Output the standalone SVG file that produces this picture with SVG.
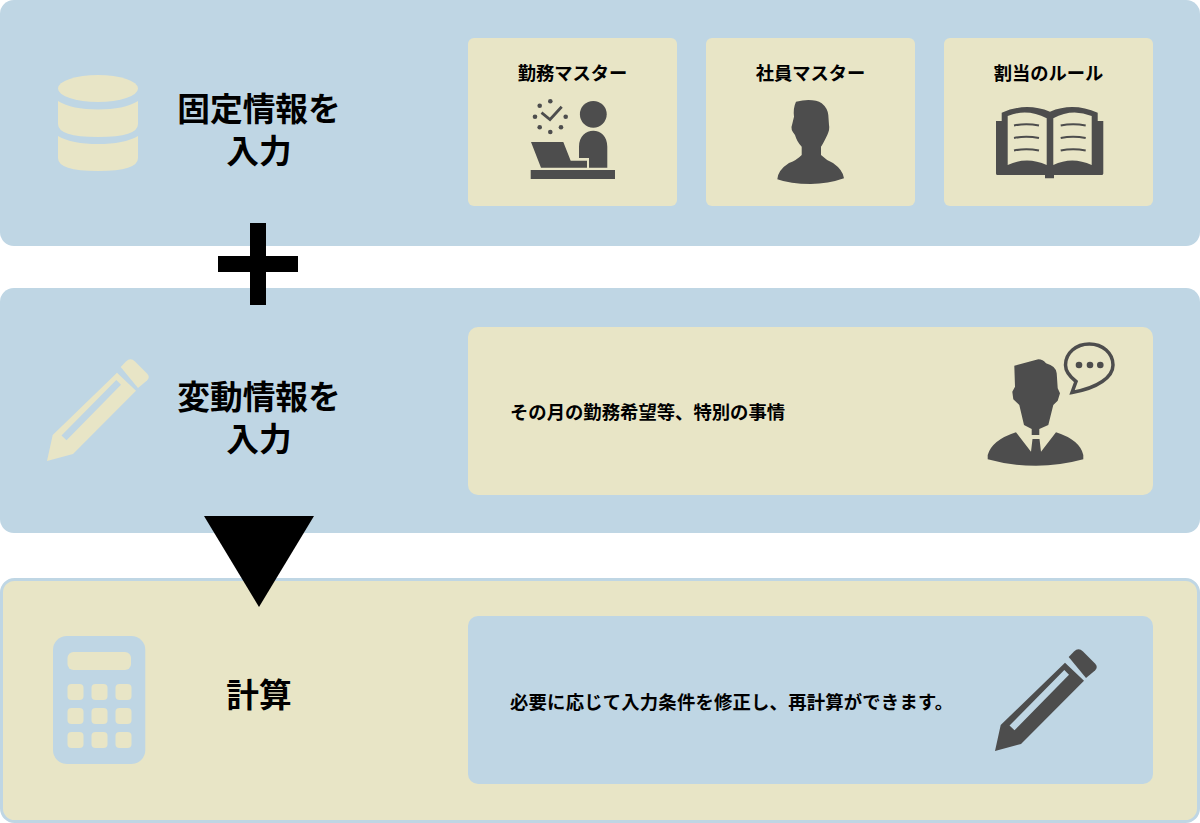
<svg xmlns="http://www.w3.org/2000/svg" width="1200" height="823" viewBox="0 0 1200 823">
<style>
text{font-family:"Noto Sans CJK JP","Noto Sans",sans-serif;font-weight:700;fill:#000}
.t{font-size:32.700px;text-anchor:middle}
.l{font-size:18.300px;text-anchor:middle}
.d{font-size:18.350px}
.b{fill:#bfd6e4}
.y{fill:#e8e5c6}
.k{fill:#4d4d4d}
</style>
<defs>
<g id="pencil">
<path d="M52.7 435L117 372.7L136 390.7L73 454L47 461Z M61.500 435.500L66.500 440.300L121 384.800L116.300 380Z" fill-rule="evenodd"/>
<path d="M120.700 367L126 361.500Q130.500 357 135 361.500L147 373.500Q150.500 377 147 380.500L138 388Z"/>
</g>
</defs>
<rect id="panel-fixed" class="b" x="0" y="0" width="1200" height="246" rx="14"/>
<rect id="panel-variable" class="b" x="0" y="288" width="1200" height="245" rx="14"/>
<rect id="panel-calc" class="y" x="1.500" y="579.500" width="1197" height="242" rx="13" stroke="#bfd6e4" stroke-width="3"/>

<g id="fixed-input">
<g class="y">
<ellipse cx="98" cy="88.500" rx="40" ry="13.500"/>
<path d="M58 101Q72 109.500 98 109.500T138 101V124Q138 137 98 137T58 124Z"/>
<path d="M58 136Q72 144 98 144T138 136V158Q138 171 98 171T58 158Z"/>
</g>
<text class="t" x="259" y="120.500">固定情報を</text>
<text class="t" x="259" y="163">入力</text>
</g>

<g id="card-shift-master">
<rect class="y" x="468" y="38" width="209" height="168" rx="6"/>
<text class="l" x="572.500" y="80">勤務マスター</text>
<g class="k">
<circle cx="593.300" cy="114.300" r="13.400"/>
<path d="M579 158V146.700C579 136 586 130.700 593.300 130.700S607.300 136 607.300 146.700V167.700H589V158Z"/>
<path d="M531 142H563.300L570.700 160.700H587V167.700H541Z"/>
<rect x="530.700" y="170" width="84.300" height="9"/>
<circle cx="539.700" cy="105.700" r="2.300"/><circle cx="550.300" cy="101.300" r="2.300"/><circle cx="535" cy="116.700" r="2.300"/><circle cx="565.700" cy="116.700" r="2.300"/><circle cx="539.700" cy="127.300" r="2.300"/><circle cx="561" cy="127.300" r="2.300"/><circle cx="550.300" cy="132" r="2.300"/>
<path d="M541.500 112.700L550 119.500L561.700 106.700" fill="none" stroke="#4d4d4d" stroke-width="2.800"/>
</g>
</g>

<g id="card-staff-master">
<rect class="y" x="706" y="38" width="209" height="168" rx="6"/>
<text class="l" x="810.500" y="80">社員マスター</text>
<path class="k" d="M796 101.700Q803 100 808.300 100Q817 100 821.700 103.300Q827.500 108 828.300 115L829 125Q830 129 827.300 135Q823 144 821 146.700V155Q826 160 833 163Q843 170 844 178.300Q828 184 810.700 184Q790 184 777.300 179.300Q778 170 789 163Q797 160 801.700 155V146.700Q797 142 795 135Q790 129 792 125L794 116.700Q793 108 796 101.700Z"/>
</g>

<g id="card-rules">
<rect class="y" x="944" y="38" width="209" height="168" rx="6"/>
<text class="l" x="1048.500" y="80">割当のルール</text>
<path class="k" fill-rule="evenodd" d="M1001.700 121V112.700Q1026 102 1050 111.700Q1073 102 1097.700 112.700V121H1103.300V173.500Q1103.300 175 1101.500 175H1054V178.300H1045V175H997.500Q996 175 996 173.500V121Z M1007.700 116V165Q1027 156 1046.700 165V118.300Q1027 108 1007.700 116Z M1053.300 118.300V165Q1072 156 1091.700 165V116Q1072 108 1053.300 118.300Z"/>
<path d="M1014 125.500Q1026 123 1039 125.500M1014 138Q1026 135.500 1039 138M1014 150.500Q1026 148 1039 150.500M1060.700 125.500Q1073 123 1085.700 125.500M1060.700 138Q1073 135.500 1085.700 138M1060.700 150.500Q1073 148 1085.700 150.500" fill="none" stroke="#4d4d4d" stroke-width="2"/>
</g>

<g id="variable-input">
<use href="#pencil" class="y"/>
<text class="t" x="259" y="408.500">変動情報を</text>
<text class="t" x="259" y="451">入力</text>
</g>

<g id="card-request">
<rect class="y" x="468" y="327" width="685" height="168" rx="10"/>
<text class="d" x="510" y="419">その月の勤務希望等、特別の事情</text>
<g class="k">
<path d="M1014.300 365.700L1038.300 359.300Q1043 359.500 1046 363.300Q1056 366 1056.700 373.300L1057.700 388.300L1060 393.300L1057.700 400.700L1053.300 405L1048.300 425L1039.300 429V435H1031.700V429L1024 425L1019.300 405L1013.300 399.300L1012.300 391.700L1015 386.700Z"/>
<path d="M1016 432.300L1031 451.700L1032.500 439H1039.500L1041 451.700L1056 432.300Q1080 440 1083.300 455V459.300Q1060 465.700 1036 465.700Q1010 465.700 987.700 459.300V455Q992 440 1016 432.300Z"/>
<circle cx="1079" cy="365" r="3.300"/><circle cx="1090" cy="365" r="3.300"/><circle cx="1100.300" cy="365" r="3.300"/>
</g>
<path d="M1076 381.500C1069 376 1065.500 371 1065.500 365C1065.500 353 1076 344 1089.300 344S1113 353 1113 365C1113 377 1098 388 1072 392.500Z" fill="none" stroke="#4d4d4d" stroke-width="3.500"/>
</g>

<g id="calculation">
<rect class="b" x="53" y="636" width="92.300" height="128" rx="14"/>
<g class="y">
<rect x="67.500" y="652" width="63.500" height="18" rx="6"/>
<rect x="67.500" y="684" width="16" height="16" rx="4"/><rect x="91.500" y="684" width="16" height="16" rx="4"/><rect x="115.500" y="684" width="16" height="16" rx="4"/>
<rect x="67.500" y="708" width="16" height="16" rx="4"/><rect x="91.500" y="708" width="16" height="16" rx="4"/><rect x="115.500" y="708" width="16" height="16" rx="4"/>
<rect x="67.500" y="732" width="16" height="16" rx="4"/><rect x="91.500" y="732" width="16" height="16" rx="4"/><rect x="115.500" y="732" width="16" height="16" rx="4"/>
</g>
<text class="t" x="259" y="707">計算</text>
</g>

<g id="card-adjust">
<rect class="b" x="468" y="616" width="685" height="168" rx="10"/>
<text class="d" x="510" y="709" letter-spacing="0.200">必要に応じて入力条件を修正し、再計算ができます。</text>
<use href="#pencil" class="k" x="948" y="290"/>
</g>

<g id="connectors">
<path d="M250 223H266V256H298V272H266V305H250V272H218V256H250Z"/>
<path d="M204 516H314L259 607Z"/>
</g>
</svg>
